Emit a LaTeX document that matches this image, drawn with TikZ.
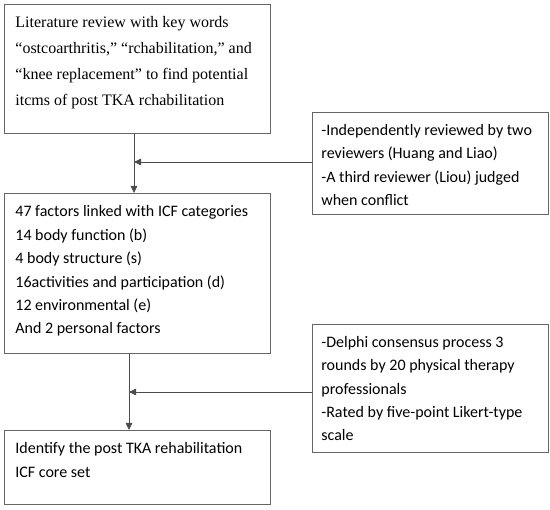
\documentclass[tikz,border=0pt]{standalone}
\usepackage{fontspec}
\setmainfont{Carlito}
\newfontfamily\timesfont{Liberation Serif}
\usetikzlibrary{arrows.meta,positioning}

\newcommand{\boxlines}[4]{\parbox[c][#2][t]{#1}{\raggedright\vspace*{#3}#4}}

\begin{document}
\begin{tikzpicture}[x=1pt,y=-1pt,
 flowbox/.style={draw=black!60,line width=0.8pt,anchor=north west,inner ysep=0pt,inner xsep=11pt,
   font=\fontsize{16}{23.4}\selectfont},
 notebox/.style={flowbox,inner xsep=9pt},
 arr/.style={-{Triangle[length=7pt,width=6.5pt]},draw=black!70,line width=0.8pt}]
 \useasboundingbox (0,0) rectangle (550,510);
 % main column
 \node[flowbox,font=\timesfont\fontsize{16}{26}\selectfont] (lit) at (4,4)
  {\boxlines{244pt}{129pt}{11.8pt}{Literature review with key words\\
   “ostcoarthritis,” “rchabilitation,” and\\
   “knee replacement” to find potential\\
   itcms of post TKA rchabilitation}};
 \node[flowbox] (icf) at (4,193)
  {\boxlines{244pt}{160pt}{12.3pt}{47 factors linked with ICF categories\\
   14 body function (b)\\
   4 body structure (s)\\
   16activities and participation (d)\\
   12 environmental (e)\\
   And 2 personal factors}};
 \node[flowbox] (core) at (4,430)
  {\boxlines{244pt}{74pt}{12.3pt}{Identify the post TKA rehabilitation\\
   ICF core set}};
 % side notes
 \node[notebox] (rev) at (312,112)
  {\boxlines{218pt}{102pt}{11.8pt}{-Independently reviewed by two\\
   reviewers (Huang and Liao)\\
   -A third reviewer (Liou) judged\\
   when conflict}};
 \node[notebox] (delphi) at (312,324)
  {\boxlines{218pt}{128pt}{11.8pt}{-Delphi consensus process 3\\
   rounds by 20 physical therapy\\
   professionals\\
   -Rated by five-point Likert-type\\
   scale}};
 % connectors
 \coordinate (j1) at (134,162);
 \coordinate (j2) at (129,392);
 \draw[arr] (lit.south -| j1) -- (icf.north -| j1);
 \draw[arr] (rev.west |- j1) -- (j1);
 \draw[arr] (icf.south -| j2) -- (core.north -| j2);
 \draw[arr] (delphi.west |- j2) -- (j2);
\end{tikzpicture}
\end{document}
